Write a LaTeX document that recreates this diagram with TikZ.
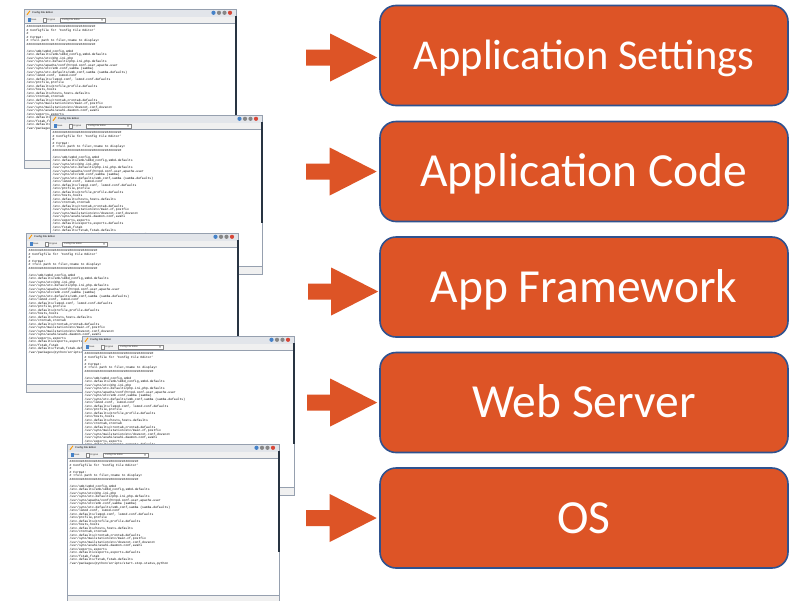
\documentclass[tikz,border=0pt]{standalone}
\usepackage{fontspec}
\setmainfont{Carlito}
\newfontfamily\monofont{Liberation Mono}
\newfontfamily\uifont{Liberation Sans}
\usetikzlibrary{calc}
\definecolor{boxfill}{RGB}{221,84,38}
\definecolor{boxline}{RGB}{47,82,143}
\definecolor{titlegray}{RGB}{226,229,234}
\definecolor{toolgray}{RGB}{240,240,240}
\definecolor{winborder}{RGB}{150,160,175}
\definecolor{darkedge}{RGB}{40,52,66}
\definecolor{iconblue}{RGB}{70,130,200}
\definecolor{iconred}{RGB}{215,70,55}
\definecolor{icongray}{RGB}{135,135,135}

\newcommand\cfglines{%
\#\#\#\#\#\#\#\#\#\#\#\#\#\#\#\#\#\#\#\#\#\#\#\#\#\#\#\#\#\#\#\#\#\#\#\#\#\\
\# Configfile for 'Config File Editor'\\
\#\\
\# Format:\\
\# <full path to file>,<name to display>\\
\#\#\#\#\#\#\#\#\#\#\#\#\#\#\#\#\#\#\#\#\#\#\#\#\#\#\#\#\#\#\#\#\#\#\#\#\#\\
\mbox{}\\
/etc/smb/smbd\_config,smbd\\
/etc.defaults/smb/smbd\_config,smbd-defaults\\
/usr/syno/etc/php.ini,php\\
/usr/syno/etc.defaults/php.ini,php-defaults\\
/usr/syno/apache/conf/httpd.conf-user,apache-user\\
/usr/syno/etc/smb.conf,samba (samba)\\
/usr/syno/etc.defaults/smb.conf,samba (samba-defaults)\\
/etc/lsmod.conf, lsmod.conf\\
/etc.defaults/lsmod.conf, lsmod.conf-defaults\\
/etc/profile,profile\\
/etc.defaults/profile,profile-defaults\\
/etc/hosts,hosts\\
/etc.defaults/hosts,hosts-defaults\\
/etc/crontab,crontab\\
/etc.defaults/crontab,crontab-defaults\\
/usr/syno/mailstation/etc/main.cf,postfix\\
/usr/syno/mailstation/etc/dovecot.conf,dovecot\\
/usr/syno/avahi/avahi-daemon.conf,avahi\\
/etc/exports,exports\\
/etc.defaults/exports,exports-defaults\\
/etc/fstab,fstab\\
/etc.defaults/fstab,fstab-defaults\\
/var/packages/python/scripts/start-stop-status,python}

% window: #1 name, #2 x, #3 y
\newcommand\cfgwin[3]{%
\begin{scope}[shift={(#2,#3)}]
  \fill[white] (0,0) rectangle (212,159);
  \fill[titlegray] (0,0) rectangle (212,7.5);
  \fill[toolgray] (0,7.5) rectangle (212,14.5);
  \fill[toolgray] (0,151) rectangle (212,159);
  \draw[winborder, line width=0.4pt] (0,14.5) -- (212,14.5);
  \draw[winborder, line width=0.4pt] (0,151) -- (212,151);
  \draw[winborder, line width=0.6pt] (0,0) rectangle (212,159);
  \draw[darkedge, line width=1.3pt] (212,7) -- (212,108);
  % title bar
  \draw[orange!80!yellow, line width=0.9pt] (3,5.8) -- (6,1.8);
  \node[uitext, font=\uifont\bfseries\fontsize{2.5}{3}\selectfont] (#1title) at (8,3.8) {Config File Editor};
  \fill[iconblue] (189.5,3.8) circle[radius=2.1pt];
  \fill[icongray] (195,3.8) circle[radius=2.1pt];
  \fill[icongray] (200.5,3.8) circle[radius=2.1pt];
  \fill[iconred] (206,3.8) circle[radius=2.1pt];
  % toolbar
  \fill[iconblue] (3.5,9.3) rectangle (6.5,12.8);
  \node[uitext] (#1save) at (7,11.1) {Save};
  \draw[icongray, fill=white, line width=0.3pt] (19,9.3) rectangle (22,12.8);
  \node[uitext] (#1orig) at (23,11.1) {Original};
  \draw[icongray, fill=white, line width=0.3pt] (36,9) rectangle (81,13.1);
  \node[uitext] (#1combo) at (38,11.1) {Config File Editor};
  \fill[icongray] (77,10.3) -- (79,10.3) -- (78,11.9) -- cycle;
  % content
  \node[anchor=north west, inner sep=0pt, align=left, text=black,
        font=\monofont\fontsize{3.1}{3.5}\selectfont] (#1text) at (2.5,16.6) {\cfglines};
\end{scope}}

% block arrow: #1 start coordinate, #2 tip coordinate
\newcommand\blockarr[2]{%
  \fill[boxfill] ($(#1)+(0,-8)$) -- ($(#2)+(-47,-8)$) -- ($(#2)+(-47,-24)$) -- (#2)
    -- ($(#2)+(-47,24)$) -- ($(#2)+(-47,8)$) -- ($(#1)+(0,8)$) -- cycle;}

\begin{document}
\begin{tikzpicture}[x=1pt,y=-1pt,
  uitext/.style={anchor=west, inner sep=0pt, font=\uifont\fontsize{2.3}{2.8}\selectfont, text=black!80},
  appbox/.style={draw=boxline, line width=1.6pt, fill=boxfill, rounded corners=16pt,
    minimum width=408pt, minimum height=100pt, inner sep=0pt, text=white,
    font=\fontsize{47.5}{52}\selectfont, text height=30.6pt, text depth=0pt}]
\useasboundingbox (0,0) rectangle (791,600);
\clip (0,0) rectangle (791,600);
\fill[white] (0,0) rectangle (791,600);

\cfgwin{wa}{24}{9}
\cfgwin{wb}{50}{115}
\cfgwin{wc}{26}{233}
\cfgwin{wd}{82}{336}
\cfgwin{we}{67}{444}

\node[appbox, font=\fontsize{42.5}{48}\selectfont, text height=27.4pt] (b1) at (584,55.5) {Application Settings};
\node[appbox] (b2) at (584,171.5) {Application Code};
\node[appbox] (b3) at (584,287) {App Framework};
\node[appbox] (b4) at (584,402.5) {Web Server};
\node[appbox] (b5) at (584,518) {OS};

\coordinate (a1) at (306,57.5);
\coordinate (a2) at (306,171.5);
\coordinate (a3) at (308,291.5);
\coordinate (a4) at (307,402.5);
\coordinate (a5) at (306,518);
\coordinate (t1) at ([xshift=-2pt]a1 -| b1.west);
\coordinate (t2) at ([xshift=-2.5pt]a2 -| b2.west);
\coordinate (t3) at ([xshift=-1pt]a3 -| b3.west);
\coordinate (t4) at ([xshift=-2pt]a4 -| b4.west);
\coordinate (t5) at ([xshift=-2.5pt]a5 -| b5.west);
\blockarr{a1}{t1}
\blockarr{a2}{t2}
\blockarr{a3}{t3}
\blockarr{a4}{t4}
\blockarr{a5}{t5}
\end{tikzpicture}
\end{document}
